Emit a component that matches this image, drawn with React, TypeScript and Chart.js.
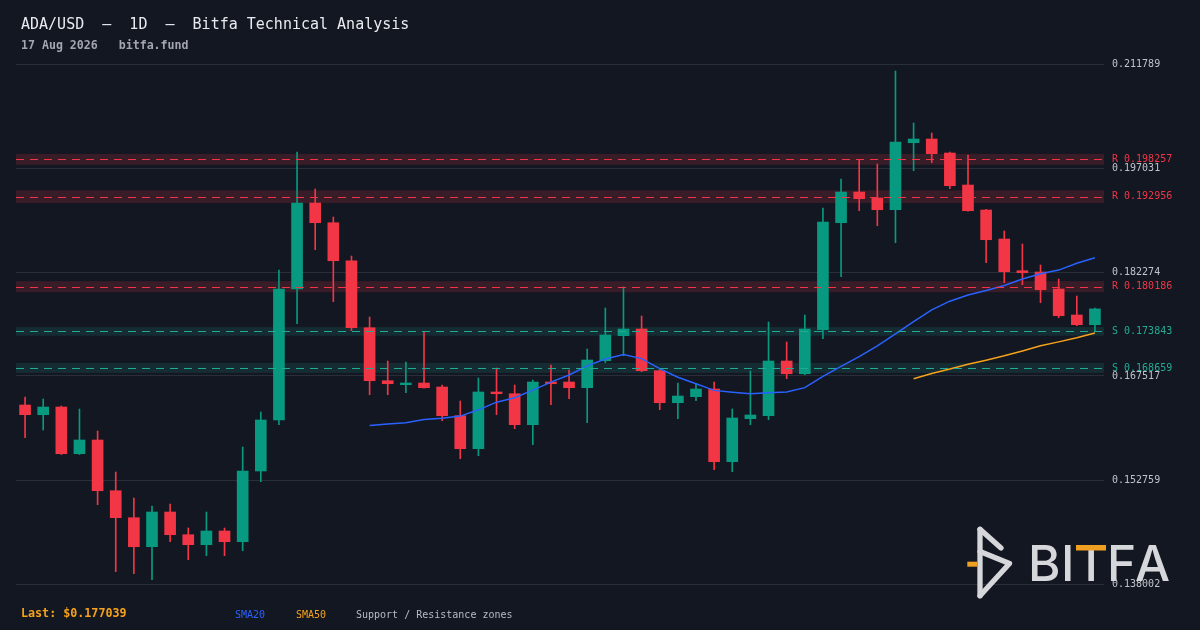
import React, { useEffect, useRef } from 'react';
import { Chart, registerables } from 'chart.js';

Chart.register(...registerables);

// ---------- data ----------
const dates = [
  'Jun 19', 'Jun 20', 'Jun 21', 'Jun 22', 'Jun 23', 'Jun 24', 'Jun 25', 'Jun 26', 'Jun 27', 'Jun 28',
  'Jun 29', 'Jun 30', 'Jul 01', 'Jul 02', 'Jul 03', 'Jul 04', 'Jul 05', 'Jul 06', 'Jul 07', 'Jul 08',
  'Jul 09', 'Jul 10', 'Jul 11', 'Jul 12', 'Jul 13', 'Jul 14', 'Jul 15', 'Jul 16', 'Jul 17', 'Jul 18',
  'Jul 19', 'Jul 20', 'Jul 21', 'Jul 22', 'Jul 23', 'Jul 24', 'Jul 25', 'Jul 26', 'Jul 27', 'Jul 28',
  'Jul 29', 'Jul 30', 'Jul 31', 'Aug 01', 'Aug 02', 'Aug 03', 'Aug 04', 'Aug 05', 'Aug 06', 'Aug 07',
  'Aug 08', 'Aug 09', 'Aug 10', 'Aug 11', 'Aug 12', 'Aug 13', 'Aug 14', 'Aug 15', 'Aug 16', 'Aug 17',
];

const opens = [
  0.163401, 0.162025, 0.163117, 0.156491, 0.158435, 0.151240, 0.147410, 0.143294, 0.148218, 0.144997,
  0.143578, 0.145522, 0.144004, 0.154036, 0.161273, 0.179861, 0.192064, 0.189268, 0.183876, 0.174369,
  0.166849, 0.166281, 0.166523, 0.165955, 0.161883, 0.157200, 0.165246, 0.165004, 0.160606, 0.166664,
  0.166664, 0.165856, 0.169687, 0.173234, 0.174185, 0.168268, 0.163727, 0.164579, 0.165671, 0.155355,
  0.161457, 0.161883, 0.169644, 0.167842, 0.174085, 0.189268, 0.193624, 0.192773, 0.191113, 0.200620,
  0.201145, 0.199158, 0.194618, 0.191070, 0.186955, 0.182457, 0.182273, 0.179861, 0.176171, 0.174795,
];

const highs = [
  0.164536, 0.164252, 0.163259, 0.162833, 0.159712, 0.153894, 0.150205, 0.149070, 0.149353, 0.145948,
  0.148218, 0.145948, 0.157441, 0.162408, 0.182557, 0.199300, 0.194050, 0.190077, 0.184543, 0.175888,
  0.169644, 0.169502, 0.173802, 0.166239, 0.163968, 0.167232, 0.168651, 0.166239, 0.166948, 0.169077,
  0.168367, 0.171347, 0.177165, 0.180144, 0.176029, 0.168509, 0.166523, 0.166480, 0.166664, 0.162833,
  0.168225, 0.175178, 0.172340, 0.176171, 0.191354, 0.195469, 0.198264, 0.197597, 0.210794, 0.203415,
  0.201996, 0.199300, 0.198874, 0.191170, 0.188090, 0.186246, 0.183266, 0.181280, 0.178867, 0.177165,
];

const lows = [
  0.158761, 0.159854, 0.156377, 0.156377, 0.149254, 0.139747, 0.139463, 0.138612, 0.144004, 0.141450,
  0.142017, 0.142017, 0.142727, 0.152518, 0.160606, 0.174937, 0.185437, 0.178059, 0.173943, 0.164862,
  0.164862, 0.165146, 0.165800, 0.161173, 0.155781, 0.156207, 0.162025, 0.160038, 0.157768, 0.163443,
  0.164295, 0.160890, 0.169403, 0.170396, 0.168126, 0.162734, 0.161457, 0.164011, 0.154220, 0.153937,
  0.160606, 0.161315, 0.167133, 0.167700, 0.172809, 0.181606, 0.190971, 0.188842, 0.186430, 0.196647,
  0.197782, 0.194093, 0.190900, 0.183592, 0.180755, 0.180471, 0.177917, 0.175788, 0.174653, 0.173943,
];

const closes = [
  0.162025, 0.163117, 0.156491, 0.158435, 0.151240, 0.147410, 0.143294, 0.148218, 0.144997, 0.143578,
  0.145522, 0.144004, 0.154036, 0.161273, 0.179861, 0.192064, 0.189268, 0.183876, 0.174369, 0.166849,
  0.166423, 0.166523, 0.165856, 0.161883, 0.157200, 0.165246, 0.165004, 0.160606, 0.166664, 0.166423,
  0.165856, 0.169786, 0.173334, 0.174185, 0.168268, 0.163727, 0.164678, 0.165671, 0.155355, 0.161556,
  0.161982, 0.169644, 0.167842, 0.174185, 0.189368, 0.193624, 0.192674, 0.191113, 0.200719, 0.201145,
  0.199059, 0.194518, 0.190971, 0.186856, 0.182315, 0.182173, 0.179762, 0.176072, 0.174795, 0.177039,
];

const yTickValues = [0.138002, 0.152759, 0.167517, 0.182274, 0.197031, 0.211789];
const yTickLabels = ['0.138002', '0.152759', '0.167517', '0.182274', '0.197031', '0.211789'];

const zoneKinds = ['R', 'R', 'R', 'S', 'S'];
const zoneLevels = [0.198257, 0.192956, 0.180186, 0.173843, 0.168659];
const zoneLows = [0.197477, 0.192056, 0.179406, 0.173233, 0.167949];
const zoneHighs = [0.199037, 0.193856, 0.180966, 0.174453, 0.169369];

const smaPeriods = [20, 50];
const lastPrice = 0.177039;

// ---------- helpers ----------
const UP = '#089981';
const DOWN = '#f23645';
const SUPPORT = '#22ab94';
const SMA20_COLOR = '#2962ff';
const SMA50_COLOR = '#f7a21b';
const MONO = '"DejaVu Sans Mono", monospace';

function movingAverage(values: number[], n: number): (number | null)[] {
  return values.map((_, i) => {
    if (i < n - 1) return null;
    let s = 0;
    for (let j = i - n + 1; j <= i; j++) s += values[j];
    return s / n;
  });
}

const zonePlugin = {
  id: 'zones',
  beforeDatasetsDraw(chart: any) {
    const { ctx, chartArea, scales } = chart;
    const y = scales.y;
    ctx.save();
    zoneLevels.forEach((_, i) => {
      const top = y.getPixelForValue(zoneHighs[i]);
      const bot = y.getPixelForValue(zoneLows[i]);
      ctx.fillStyle = zoneKinds[i] === 'R' ? 'rgba(242,54,69,0.17)' : 'rgba(34,171,148,0.15)';
      ctx.fillRect(chartArea.left, top, chartArea.right - chartArea.left, bot - top);
    });
    ctx.restore();
  },
  afterDatasetsDraw(chart: any) {
    const { ctx, chartArea, scales } = chart;
    const y = scales.y;
    ctx.save();
    ctx.lineWidth = 1;
    ctx.setLineDash([8, 6]);
    zoneLevels.forEach((lv, i) => {
      const py = Math.round(y.getPixelForValue(lv)) + 0.5;
      ctx.strokeStyle = zoneKinds[i] === 'R' ? DOWN : SUPPORT;
      ctx.beginPath();
      ctx.moveTo(chartArea.left, py);
      ctx.lineTo(chartArea.right, py);
      ctx.stroke();
    });
    ctx.restore();
  },
  afterDraw(chart: any) {
    const { ctx, chartArea, scales } = chart;
    const y = scales.y;
    ctx.save();
    ctx.font = `10px ${MONO}`;
    ctx.textBaseline = 'middle';
    ctx.textAlign = 'left';
    zoneLevels.forEach((lv, i) => {
      ctx.fillStyle = zoneKinds[i] === 'R' ? DOWN : SUPPORT;
      ctx.fillText(`${zoneKinds[i]} ${lv.toFixed(6)}`, chartArea.right + 8, y.getPixelForValue(lv));
    });
    ctx.restore();
  },
};

export default function App() {
  const canvasRef = useRef<HTMLCanvasElement | null>(null);

  useEffect(() => {
    document.body.style.margin = '0';
    document.body.style.background = '#131722';
    const canvas = canvasRef.current;
    if (!canvas) return;
    const colors = closes.map((c, i) => (c >= opens[i] ? UP : DOWN));
    const sma20 = movingAverage(closes, smaPeriods[0]);
    const sma50 = movingAverage(closes, smaPeriods[1]);

    const chart = new Chart(canvas, {
      type: 'bar',
      data: {
        labels: dates,
        datasets: [
          {
            type: 'line',
            label: 'SMA20',
            data: sma20,
            borderColor: SMA20_COLOR,
            borderWidth: 1.5,
            pointRadius: 0,
            tension: 0,
            order: 0,
          } as any,
          {
            type: 'line',
            label: 'SMA50',
            data: sma50,
            borderColor: SMA50_COLOR,
            borderWidth: 1.5,
            pointRadius: 0,
            tension: 0,
            order: 0,
          } as any,
          {
            type: 'bar',
            label: 'body',
            data: opens.map((o, i) => [o, closes[i]]),
            backgroundColor: colors,
            barThickness: 11,
            grouped: false,
            minBarLength: 1,
            order: 1,
          } as any,
          {
            type: 'bar',
            label: 'wick',
            data: lows.map((l, i) => [l, highs[i]]),
            backgroundColor: colors,
            barThickness: 1,
            grouped: false,
            order: 2,
          } as any,
        ],
      },
      options: {
        responsive: false,
        animation: false,
        layout: { padding: { left: 16, top: 64, right: 0, bottom: 46 } },
        plugins: {
          legend: { display: false },
          tooltip: { enabled: false },
        },
        scales: {
          x: {
            display: false,
            offset: true,
            grid: { display: false },
          },
          y: {
            position: 'right',
            min: yTickValues[0],
            max: yTickValues[yTickValues.length - 1],
            afterBuildTicks: (s: any) => {
              s.ticks = yTickValues.map((v) => ({ value: v }));
            },
            afterFit: (s: any) => {
              s.width = 96;
            },
            grid: { color: '#2a2e39', drawTicks: false, lineWidth: 1 },
            border: { display: false },
            ticks: {
              color: '#c0c3ca',
              padding: 8,
              font: { family: MONO, size: 10 },
              callback: (_v: any, i: number) => yTickLabels[i],
            },
          },
        },
      } as any,
      plugins: [zonePlugin],
    });
    return () => chart.destroy();
  }, []);

  const abs = (s: React.CSSProperties): React.CSSProperties => ({
    position: 'absolute',
    whiteSpace: 'pre',
    fontFamily: MONO,
    margin: 0,
    ...s,
  });

  return (
    <div
      style={{
        position: 'fixed',
        left: 0,
        top: 0,
        width: 1200,
        height: 630,
        background: '#131722',
        overflow: 'hidden',
      }}
    >
      <canvas ref={canvasRef} width={1200} height={630} style={{ position: 'absolute', left: 0, top: 0 }} />
      <div style={abs({ left: 21, top: 16.6, fontSize: 15, lineHeight: '15px', color: '#e9ebf0' })}>
        {'ADA/USD  —  1D  —  Bitfa Technical Analysis'}
      </div>
      <div style={abs({ left: 21, top: 38.9, fontSize: 11.6, lineHeight: '12px', color: '#a3a6af', fontWeight: 'bold' })}>
        {'17 Aug 2026   bitfa.fund'}
      </div>
      <div style={abs({ left: 21, top: 607.1, fontSize: 11.7, lineHeight: '12px', color: SMA50_COLOR, fontWeight: 'bold' })}>
        {`Last: $${lastPrice.toFixed(6)}`}
      </div>
      <div style={abs({ left: 235, top: 610.2, fontSize: 10, lineHeight: '10px', color: SMA20_COLOR })}>SMA20</div>
      <div style={abs({ left: 296, top: 610.2, fontSize: 10, lineHeight: '10px', color: SMA50_COLOR })}>SMA50</div>
      <div style={abs({ left: 356, top: 610.2, fontSize: 10, lineHeight: '10px', color: '#b8bbc3' })}>
        {'Support / Resistance zones'}
      </div>
      <svg width={1200} height={630} style={{ position: 'absolute', left: 0, top: 0, pointerEvents: 'none' }}>
        <g stroke="#d6d7da" strokeWidth={5.3} strokeLinecap="round" strokeLinejoin="round" fill="none">
          <path d="M980 529.3 L980 595.7" />
          <path d="M980 529.3 L1001 548" />
          <path d="M980 551.5 L1009.5 563.5 L980 595.7" />
        </g>
        <rect x={967.3} y={561.7} width={10} height={5} fill="#f0a020" />
        <text fill="#d6d7da" fontFamily="Inter, sans-serif" fontWeight={500} fontSize={49.5} y={581}>
          <tspan x={1028}>B</tspan>
          <tspan x={1061}>I</tspan>
          <tspan x={1075}>T</tspan>
          <tspan x={1107}>F</tspan>
          <tspan x={1135}>A</tspan>
        </text>
        <rect x={1076} y={545} width={30} height={5.5} fill="#f0a020" />
      </svg>
    </div>
  );
}
